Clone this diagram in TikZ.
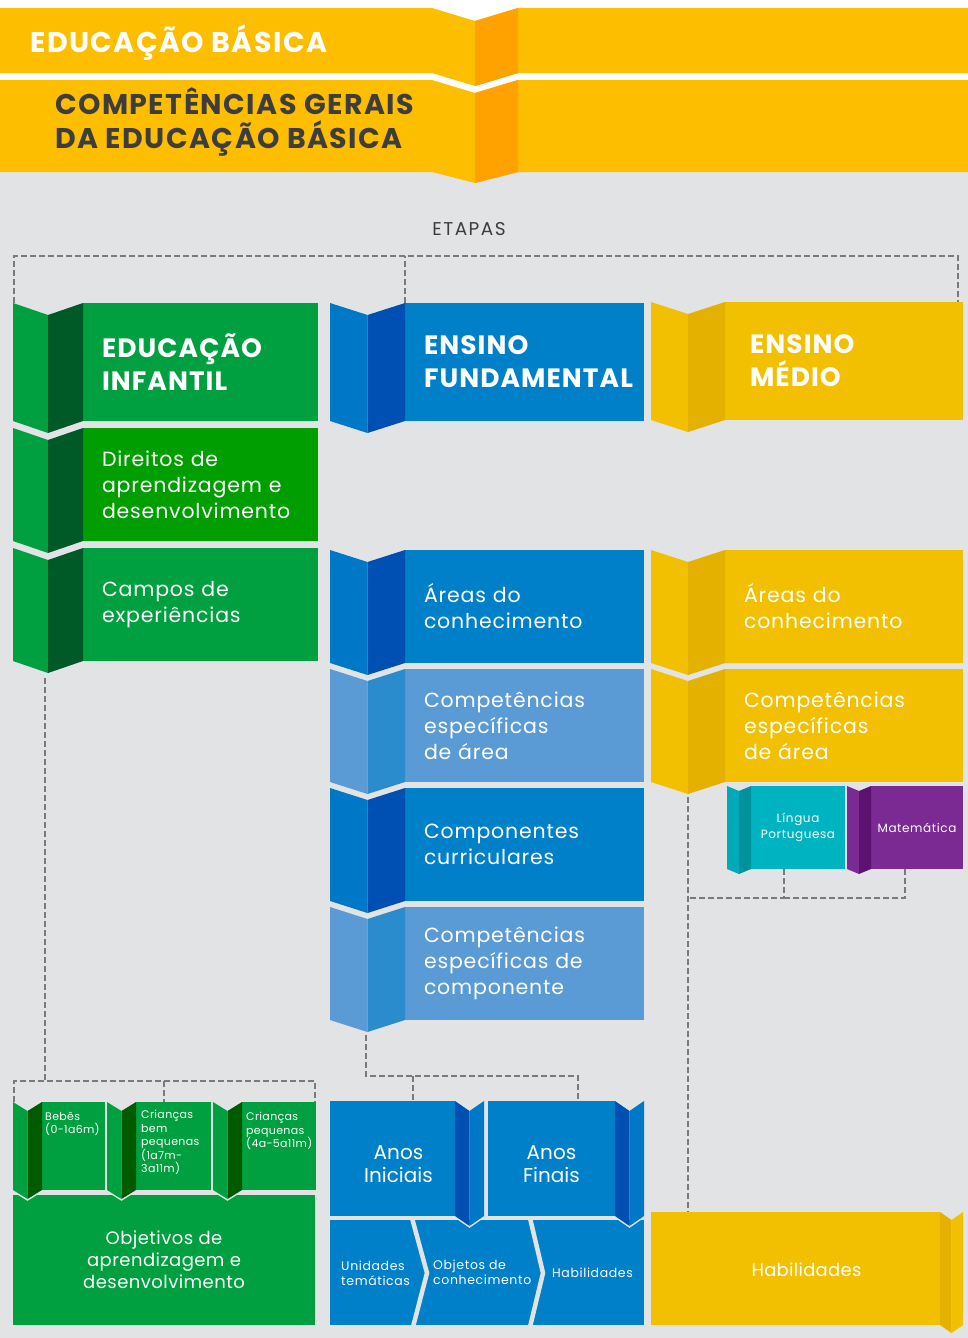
\documentclass[tikz,border=0pt]{standalone}
\usepackage{fontspec}
\setmainfont{Poppins}
\usetikzlibrary{positioning}

\definecolor{bandyel}{HTML}{FDBE00}
\definecolor{bandorg}{HTML}{FFA200}
\definecolor{bggray}{HTML}{E2E3E5}
\definecolor{dashgray}{HTML}{7A7A7A}
\definecolor{titlegray}{HTML}{3D3D3D}
\definecolor{ggreen}{HTML}{00A040}
\definecolor{gpure}{HTML}{009E00}
\definecolor{gdark}{HTML}{005A28}
\definecolor{gdeep}{HTML}{005A00}
\definecolor{eblue}{HTML}{0080C8}
\definecolor{eblueface}{HTML}{0078C8}
\definecolor{ebluedark}{HTML}{0050B4}
\definecolor{lblue}{HTML}{5B9BD5}
\definecolor{lbluedark}{HTML}{2A8BCD}
\definecolor{myel}{HTML}{F2C000}
\definecolor{myeldark}{HTML}{E5B100}
\definecolor{lpteal}{HTML}{00B3C1}
\definecolor{lptealface}{HTML}{00AAB8}
\definecolor{lptealdark}{HTML}{00939E}
\definecolor{matpurple}{HTML}{7A2A92}
\definecolor{matpurpledark}{HTML}{5C1270}

% folded strip on the left of a box: node, face width, depth, light, dark
\newcommand\foldleft[5]{%
  \draw[bggray,line width=3pt] ([xshift=-2*#2]#1.south west) -- ([xshift=-#2,yshift=-#3]#1.south west) -- (#1.south west);
  \fill[#4] ([xshift=-2*#2]#1.north west) -- ([xshift=-#2,yshift=-#3]#1.north west) -- ([xshift=-#2,yshift=-#3]#1.south west) -- ([xshift=-2*#2]#1.south west) -- cycle;
  \fill[#5] ([xshift=-#2,yshift=-#3]#1.north west) -- (#1.north west) -- (#1.south west) -- ([xshift=-#2,yshift=-#3]#1.south west) -- cycle;
  \coordinate (#1-tip) at ([xshift=-#2,yshift=-#3]#1.south west);
}
% folded strip on the right of a box: node, face width, depth, dark, light
\newcommand\foldright[5]{%
  \draw[bggray,line width=3pt] (#1.south east) -- ([xshift=#2,yshift=-#3]#1.south east) -- ([xshift=2*#2]#1.south east);
  \fill[#4] (#1.north east) -- ([xshift=#2,yshift=-#3]#1.north east) -- ([xshift=#2,yshift=-#3]#1.south east) -- (#1.south east) -- cycle;
  \fill[#5] ([xshift=#2,yshift=-#3]#1.north east) -- ([xshift=2*#2]#1.north east) -- ([xshift=2*#2]#1.south east) -- ([xshift=#2,yshift=-#3]#1.south east) -- cycle;
}

\tikzset{
  box/.style={outer sep=0pt, inner xsep=19pt, inner ysep=0pt, minimum height=113pt,
    text=white, align=left, font=\fontsize{20.5}{26}\selectfont\addfontfeatures{LetterSpace=4}},
  headbox/.style={box, minimum height=118pt, font=\bfseries\fontsize{26.5}{33}\selectfont\addfontfeatures{LetterSpace=4}},
  bannertext/.style={inner sep=0pt, align=left, font=\bfseries\fontsize{28.5}{34}\selectfont\addfontfeatures{LetterSpace=5}},
  subject/.style={outer sep=0pt, inner sep=0pt, minimum height=83pt, text=white,
    align=center, font=\fontsize{12}{16}\selectfont\addfontfeatures{LetterSpace=5}},
  agebox/.style={outer sep=0pt, inner sep=0pt, fill=ggreen, minimum height=88pt},
  agetext/.style={anchor=north west, inner sep=0pt, text=white, align=left,
    font=\fontsize{11}{13.5}\selectfont\addfontfeatures{LetterSpace=3}},
  plain/.style={outer sep=0pt, inner sep=0pt},
  whitetext/.style={inner sep=0pt, text=white, align=center},
  rowtext/.style={anchor=west, inner sep=0pt, text=white, align=left,
    font=\fontsize{12.5}{15}\selectfont\addfontfeatures{LetterSpace=5}},
  dashline/.style={draw=dashgray, line width=1.8pt, dash pattern=on 6pt off 3pt},
  sepline/.style={draw=bggray, line width=4.5pt},
}

\begin{document}
\begin{tikzpicture}[x=1pt,y=-1pt]
  \useasboundingbox (0,0) rectangle (968,1338);
  \fill[white] (0,0) rectangle (968,172);
  \fill[bggray] (0,172) rectangle (968,1338);

  % banners
  \fill[bandyel] (0,8) -- (432,8) -- (475,21) -- (518,8) -- (968,8) -- (968,73) -- (518,73) -- (475,86) -- (432,73) -- (0,73) -- cycle;
  \fill[bandorg] (475,21) -- (518,8) -- (518,73) -- (475,86) -- cycle;
  \fill[bandyel] (0,80) -- (432,80) -- (475,93) -- (518,80) -- (968,80) -- (968,172) -- (518,172) -- (475,183) -- (432,172) -- (0,172) -- cycle;
  \fill[bandorg] (475,93) -- (518,80) -- (518,172) -- (475,183) -- cycle;
  \node (basica) [bannertext, text=white, anchor=west] at (30,42) {EDUCAÇÃO BÁSICA};
  \node (gerais) [bannertext, text=titlegray, anchor=west] at (55,122) {COMPETÊNCIAS GERAIS\\DA EDUCAÇÃO BÁSICA};

  \node (etapas) [text=titlegray, font=\fontsize{18.5}{20}\selectfont\addfontfeatures{LetterSpace=8}] at (469,229) {ETAPAS};

  % educacao infantil
  \node (einf) [headbox, fill=ggreen, text width=197pt, anchor=north west] at (83,303) {EDUCAÇÃO\\INFANTIL};
  \foldleft{einf}{35pt}{12pt}{ggreen}{gdark}
  \node (direitos) [box, fill=gpure, text width=197pt, below=7pt of einf] {Direitos de\\aprendizagem e\\desenvolvimento};
  \foldleft{direitos}{35pt}{12pt}{ggreen}{gdark}
  \node (campos) [box, fill=ggreen, text width=197pt, below=7pt of direitos] {Campos de\\experiências};
  \foldleft{campos}{35pt}{12pt}{ggreen}{gdark}

  % ensino fundamental
  \node (efund) [headbox, fill=eblue, text width=201pt, anchor=north west] at (405,303) {ENSINO\\FUNDAMENTAL};
  \foldleft{efund}{37.5pt}{12pt}{eblueface}{ebluedark}
  \node (fareas) [box, fill=eblue, text width=201pt, anchor=north west] at (405,550) {Áreas do\\conhecimento};
  \foldleft{fareas}{37.5pt}{12pt}{eblueface}{ebluedark}
  \node (fcompa) [box, fill=lblue, text width=201pt, below=6pt of fareas] {Competências\\específicas\\de área};
  \foldleft{fcompa}{37.5pt}{12pt}{lblue}{lbluedark}
  \node (fcomp) [box, fill=eblue, text width=201pt, below=6pt of fcompa] {Componentes\\curriculares};
  \foldleft{fcomp}{37.5pt}{12pt}{eblueface}{ebluedark}
  \node (fcompc) [box, fill=lblue, text width=201pt, below=6pt of fcomp] {Competências\\específicas de\\componente};
  \foldleft{fcompc}{37.5pt}{12pt}{lblue}{lbluedark}

  % ensino medio
  \node (emed) [headbox, fill=myel, text width=188pt, inner xsep=25pt, anchor=north west] at (725,302) {ENSINO\\MÉDIO};
  \foldleft{emed}{37pt}{12pt}{myel}{myeldark}
  \node (mareas) [box, fill=myel, text width=200pt, anchor=north west] at (725,550) {Áreas do\\conhecimento};
  \foldleft{mareas}{37pt}{12pt}{myel}{myeldark}
  \node (mcompa) [box, fill=myel, text width=200pt, below=6pt of mareas] {Competências\\específicas\\de área};
  \foldleft{mcompa}{37pt}{12pt}{myel}{myeldark}

  \node (lingua) [subject, fill=lpteal, minimum width=94pt, anchor=north west] at (751,786) {Língua\\Portuguesa};
  \foldleft{lingua}{12pt}{5pt}{lptealface}{lptealdark}
  \node (matem) [subject, fill=matpurple, minimum width=92pt, anchor=north west] at (871,786) {Matemática};
  \foldleft{matem}{12pt}{5pt}{matpurple}{matpurpledark}

  % bottom: infantil
  \node (objetivos) [plain, fill=ggreen, minimum width=302pt, minimum height=130pt, anchor=north west,
    whitetext, font=\fontsize{18}{22}\selectfont\addfontfeatures{LetterSpace=2.5}] at (13,1195) {Objetivos de\\aprendizagem e\\desenvolvimento};
  \node (bebes) [agebox, minimum width=63pt, anchor=north west] at (42,1102) {};
  \foldleft{bebes}{14.5pt}{9pt}{ggreen}{gdeep}
  \node (bempeq) [agebox, minimum width=75pt, right=31pt of bebes] {};
  \foldleft{bempeq}{14.5pt}{9pt}{ggreen}{gdeep}
  \node (pequenas) [agebox, minimum width=74pt, right=31pt of bempeq] {};
  \foldleft{pequenas}{14.5pt}{9pt}{ggreen}{gdeep}
  \node (bebestxt) [agetext] at ([xshift=3pt,yshift=-10pt]bebes.north west) {Bebês\\(0-1a6m)};
  \node (bempeqtxt) [agetext] at ([xshift=5pt,yshift=-8pt]bempeq.north west) {Crianças\\bem\\pequenas\\(1a7m-\\3a11m)};
  \node (pequenastxt) [agetext] at ([xshift=4pt,yshift=-10pt]pequenas.north west) {Crianças\\pequenas\\(4a-5a11m)};

  % bottom: fundamental
  \node (linha) [plain, fill=eblue, minimum width=314pt, minimum height=105pt, anchor=north west] at (330,1220) {};
  \draw[sepline] (412,1218) -- (427,1273) -- (413,1327);
  \draw[sepline] (530,1218) -- (543,1273) -- (530,1327);
  \node (unidades) [rowtext] at (341,1273) {Unidades\\temáticas};
  \node (objetos) [rowtext] at (433,1272) {Objetos de\\conhecimento};
  \node (fhab) [rowtext] at (552,1273) {Habilidades};
  \node (anosI) [plain, fill=eblue, minimum width=125pt, minimum height=115pt, anchor=north west] at (330,1101) {};
  \foldright{anosI}{14.5pt}{10pt}{ebluedark}{eblueface}
  \node (anosF) [plain, fill=eblue, minimum width=127pt, minimum height=115pt, anchor=north west] at (488,1101) {};
  \foldright{anosF}{14.5pt}{10pt}{ebluedark}{eblueface}
  \node (anosItxt) [whitetext, font=\fontsize{20}{23}\selectfont] at ([xshift=6pt,yshift=-6pt]anosI.center) {Anos\\Iniciais};
  \node (anosFtxt) [whitetext, font=\fontsize{20}{23}\selectfont] at ([yshift=-6pt]anosF.center) {Anos\\Finais};

  % bottom: medio
  \node (habm) [plain, fill=myel, minimum width=289pt, minimum height=113pt, anchor=north west] at (651,1212) {};
  \foldright{habm}{11.5pt}{8pt}{myeldark}{myel}
  \node (habmtxt) [whitetext, font=\fontsize{18}{20}\selectfont\addfontfeatures{LetterSpace=1.5}] at ([xshift=11pt,yshift=-1pt]habm.center) {Habilidades};

  % dashed connectors
  \coordinate (etl) at (14,256);
  \coordinate (etr) at (958,256);
  \draw[dashline] (etl |- einf.north) -- (etl) -- (etr) -- (etr |- emed.north);
  \draw[dashline] (efund.north west) -- (efund.north west |- etl);

  \coordinate (gjoin) at (45,1081);
  \coordinate (gl) at (14,1081);
  \coordinate (gm) at (164,1081);
  \coordinate (gr) at (315,1081);
  \draw[dashline] ([xshift=-3pt,yshift=-5pt]campos-tip) -- (gjoin);
  \draw[dashline] (gl |- bebes.north) -- (gl) -- (gr) -- (gr |- pequenas.north);
  \draw[dashline] (gm) -- (gm |- bempeq.north);

  \coordinate (bl) at (366,1076);
  \coordinate (bm) at (413,1076);
  \coordinate (br) at (578,1076);
  \draw[dashline] ([xshift=-1.5pt,yshift=-3pt]fcompc-tip) -- (bl) -- (br) -- (br |- anosF.north);
  \draw[dashline] (bm) -- (bm |- anosI.north);

  \coordinate (yl) at (784,898);
  \coordinate (yr) at (905,898);
  \draw[dashline] ([yshift=-3pt]mcompa-tip) -- (mcompa-tip |- habm.north);
  \draw[dashline] (yl |- lingua.south) -- (yl) -- (mcompa-tip |- yl);
  \draw[dashline] (yr |- matem.south) -- (yr) -- (yl);
\end{tikzpicture}
\end{document}
